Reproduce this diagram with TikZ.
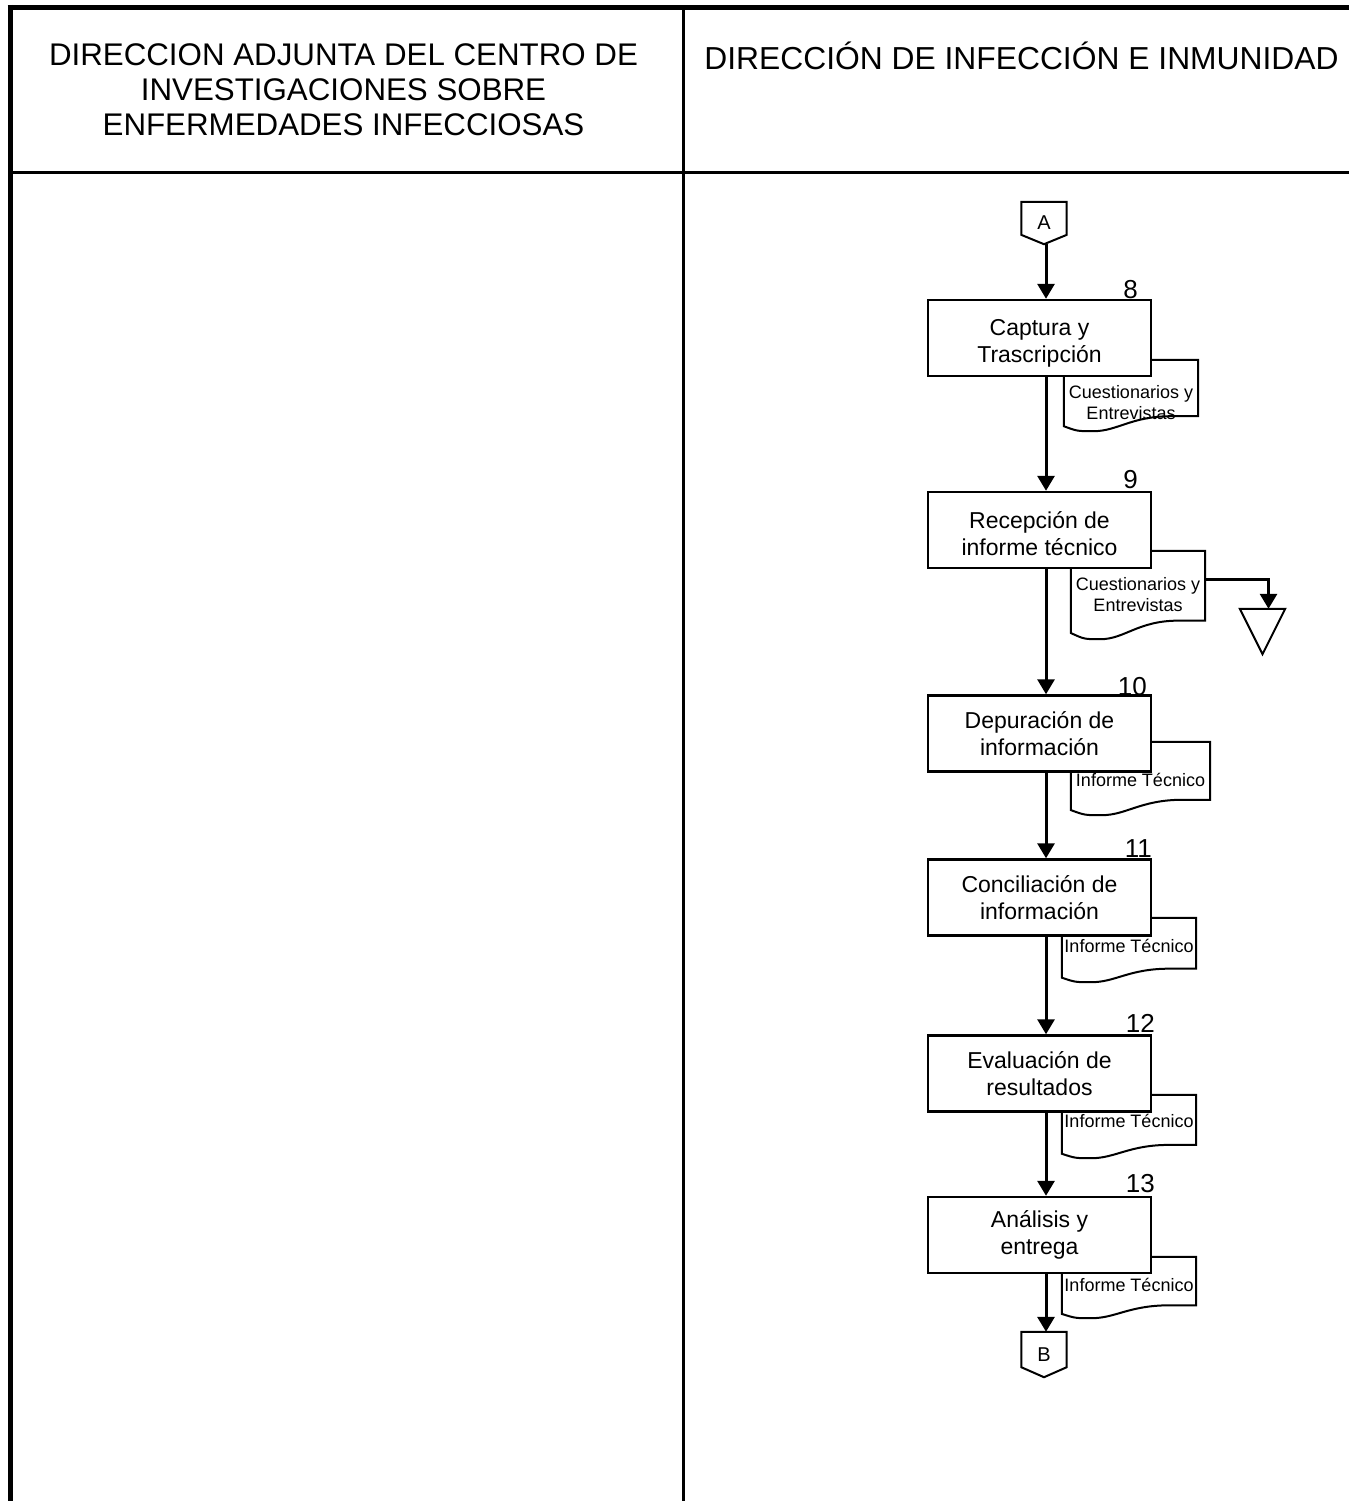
\documentclass[tikz,border=0pt]{standalone}
\usepackage{fontspec}
\setmainfont{Liberation Sans}
\usetikzlibrary{arrows.meta,calc}
\newcommand{\docoutline}[1]{%
\draw[docline] let \p1=(#1.south west), \p2=(#1.north east), \n1={\x2-\x1}, \n2={\y2-\y1} in
 (\x1,\y2) -- (\x2,\y2) -- (\x2,\y1+0.21*\n2) -- (\x1+0.8*\n1,\y1+0.21*\n2)
 .. controls (\x1+0.5*\n1,\y1+0.21*\n2) and (\x1+0.4*\n1,\y1) .. (\x1+0.22*\n1,\y1)
 .. controls (\x1+0.1*\n1,\y1) .. (\x1,\y1+0.07*\n2) -- cycle;}
\newcommand{\offpage}[1]{%
\draw[docline] let \p1=(#1.south west), \p2=(#1.north east), \n2={\y2-\y1} in
 (\x1,\y2) -- (\x2,\y2) -- (\x2,\y1+0.22*\n2) -- (#1.south) -- (\x1,\y1+0.22*\n2) -- cycle;}
\begin{document}
\begin{tikzpicture}[x=1pt,y=-1pt,
  box/.style={draw, line width=2.4pt, fill=white, minimum width=223pt, minimum height=76pt,
    inner sep=0pt, align=center, font=\fontsize{23}{27}\selectfont},
  num/.style={anchor=base east, inner sep=0pt, font=\fontsize{26}{30}\selectfont},
  docnode/.style={inner sep=0pt, align=center, font=\fontsize{18}{21}\selectfont},
  docline/.style={draw, line width=2pt, line join=miter},
  conn/.style={inner sep=0pt, minimum width=45pt, font=\fontsize{20}{24}\selectfont},
  arr/.style={line width=3pt, -{Triangle[length=15pt,width=17pt]}},
  frame/.style={line width=#1}]
\useasboundingbox (0,0) rectangle (1349,1501);
% frame
\draw[frame=5pt] (7.5,7.5) -- (1349,7.5);
\draw[frame=5pt] (10,5) -- (10,1501);
\draw[frame=3.5pt] (10,172.5) -- (1349,172.5);
\draw[frame=3pt] (683.5,7.5) -- (683.5,1501);
% headers
\node[align=center, font=\fontsize{31.3}{35}\selectfont] (h1) at (343.5,90)
  {DIRECCION ADJUNTA DEL CENTRO DE\\INVESTIGACIONES SOBRE\\ENFERMEDADES INFECCIOSAS};
\node[font=\fontsize{31.8}{35}\selectfont] (h2) at (1021.5,56) {DIRECCIÓN DE INFECCIÓN E INMUNIDAD};
% documents
\node[docnode, minimum width=134pt, minimum height=71pt, text height=48pt] (d8) at (1131,395.5) {Cuestionarios y\\Entrevistas};
\node[docnode, minimum width=134pt, minimum height=88pt] (d9) at (1138,595) {Cuestionarios y\\Entrevistas};
\node[docnode, minimum width=139pt, minimum height=73pt, text height=17pt] (d10) at (1140.5,778.5) {Informe Técnico};
\node[docnode, minimum width=134pt, minimum height=64pt, text height=5pt] (d11) at (1129,950) {Informe Técnico};
\node[docnode, minimum width=134pt, minimum height=63pt, text height=3pt] (d12) at (1129,1126.5) {Informe Técnico};
\node[docnode, minimum width=134pt, minimum height=61pt, text height=9pt] (d13) at (1129,1287.5) {Informe Técnico};
\docoutline{d8}\docoutline{d9}\docoutline{d10}\docoutline{d11}\docoutline{d12}\docoutline{d13}
% boxes
\node[box, text height=54pt] (b8) at (1039.5,338) {Captura y\\Trascripción};
\node[box, text height=51pt] (b9) at (1039.5,530) {Recepción de\\informe técnico};
\node[box] (b10) at (1039.5,733.5) {Depuración de\\información};
\node[box] (b11) at (1039.5,897.5) {Conciliación de\\información};
\node[box] (b12) at (1039.5,1073.5) {Evaluación de\\resultados};
\node[box] (b13) at (1039.5,1235) {Análisis y\\entrega};
% numbers
\node[num] (n8) at (1138,298) {8};
\node[num] (n9) at (1138,488) {9};
\node[num] (n10) at (1147,695) {10};
\node[num] (n11) at (1152,857) {11};
\node[num] (n12) at (1155,1032) {12};
\node[num] (n13) at (1155,1192) {13};
% connectors
\node[conn, minimum height=42pt] (A) at (1044,223) {A};
\offpage{A}
\node[conn, minimum height=45pt] (B) at (1044,1354.5) {B};
\offpage{B}
% archive triangle
\node[inner sep=0pt, minimum width=45pt, minimum height=45pt] (tri) at (1262.5,631.5) {};
\draw[docline] (tri.north west) -- (tri.north east) -- (tri.south) -- cycle;
% arrows
\draw[arr] ([xshift=2pt]A.south) -- ([xshift=2pt]A.south |- b8.north);
\draw[arr] ([xshift=2pt]b8.south -| A) -- ([xshift=2pt]b9.north -| A);
\draw[arr] ([xshift=2pt]b9.south -| A) -- ([xshift=2pt]b10.north -| A);
\draw[arr] ([xshift=2pt]b10.south -| A) -- ([xshift=2pt]b11.north -| A);
\draw[arr] ([xshift=2pt]b11.south -| A) -- ([xshift=2pt]b12.north -| A);
\draw[arr] ([xshift=2pt]b12.south -| A) -- ([xshift=2pt]b13.north -| A);
\draw[arr] ([xshift=2pt]b13.south -| B) -- ([xshift=2pt]B.north);
\draw[arr] ($(d9.north east)+(0,29)$) -| ($(tri.north)+(6,0)$);
\end{tikzpicture}
\end{document}
